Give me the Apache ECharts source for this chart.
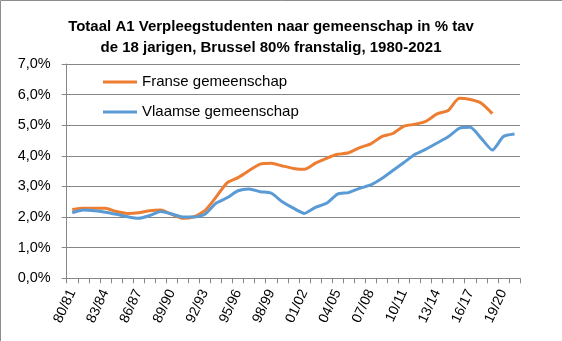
<!DOCTYPE html>
<html><head><meta charset="utf-8">
<script src="https://cdn.jsdelivr.net/npm/echarts@6/dist/echarts.min.js"></script>
<style>html,body{margin:0;padding:0;background:#fff}#c{width:562px;height:341px}</style>
</head><body><div id="c"></div>
<script>
const categories = ["80/81","81/82","82/83","83/84","84/85","85/86","86/87","87/88","88/89","89/90",
  "90/91","91/92","92/93","93/94","94/95","95/96","96/97","97/98","98/99","99/00",
  "00/01","01/02","02/03","03/04","04/05","05/06","06/07","07/08","08/09","09/10",
  "10/11","11/12","12/13","13/14","14/15","15/16","16/17","17/18","18/19","19/20","20/21"];
const franse = [2.25,2.29,2.29,2.29,2.18,2.12,2.14,2.21,2.23,2.09,
  1.96,2.01,2.21,2.65,3.12,3.29,3.52,3.73,3.76,3.67,
  3.59,3.56,3.76,3.92,4.05,4.10,4.27,4.39,4.63,4.73,
  4.97,5.03,5.13,5.37,5.48,5.88,5.84,5.72,5.38];
const vlaamse = [2.14,2.23,2.21,2.16,2.09,2.01,1.96,2.05,2.18,2.10,
  2.00,2.00,2.09,2.45,2.63,2.86,2.92,2.83,2.78,2.50,
  2.29,2.12,2.32,2.45,2.75,2.80,2.94,3.05,3.26,3.52,
  3.78,4.05,4.22,4.42,4.62,4.90,4.93,4.57,4.19,4.63,4.71];
const titleText = "Totaal A1 Verpleegstudenten naar gemeenschap in % tav\nde 18 jarigen, Brussel 80% franstalig, 1980-2021";
const seriesNames = ["Franse gemeenschap","Vlaamse gemeenschap"];

const chart = echarts.init(document.getElementById('c'), null, {renderer:'canvas'});
const font = "'Liberation Sans', Arial, sans-serif";
chart.setOption({
  animation:false,
  backgroundColor:'#fff',
  textStyle:{fontFamily:font},
  graphic:[{type:'rect',shape:{x:0.5,y:0.5,width:700,height:500},style:{fill:'none',stroke:'#8c8c8c',lineWidth:1},silent:true}],
  title:{text:titleText,left:266,top:12,textAlign:'center',
    textStyle:{fontFamily:font,fontSize:15,fontWeight:'bold',color:'#000',lineHeight:20.5}},
  legend:{orient:'vertical',left:98,top:69,icon:'rect',itemWidth:34,itemHeight:3,itemGap:14,
    textStyle:{fontFamily:font,fontSize:15,color:'#000',lineHeight:16},data:seriesNames},
  grid:{left:66.7,right:42,top:64,bottom:62.7,containLabel:false},
  xAxis:{type:'category',data:categories,boundaryGap:true,
    axisLine:{lineStyle:{color:'#868686',width:1}},
    axisTick:{show:true,interval:0,length:5,lineStyle:{color:'#868686'}},
    axisLabel:{interval:2,rotate:65,fontSize:14,color:'#000',margin:12,fontFamily:font}},
  yAxis:{type:'value',min:0,max:7,interval:1,
    axisLine:{show:true,lineStyle:{color:'#868686'}},
    axisTick:{show:true,length:5,lineStyle:{color:'#868686'}},
    splitLine:{lineStyle:{color:'#868686',width:1}},
    axisLabel:{fontSize:14.5,color:'#000',margin:16,fontFamily:font,
      formatter:v=>v.toFixed(1).replace('.',',')+'%'}},
  series:[
    {name:seriesNames[0],type:'line',data:franse,showSymbol:false,symbol:'none',smooth:0.2,
      lineStyle:{color:'#ED7D31',width:3},itemStyle:{color:'#ED7D31'}},
    {name:seriesNames[1],type:'line',data:vlaamse,showSymbol:false,symbol:'none',smooth:0.2,
      lineStyle:{color:'#5B9BD5',width:3},itemStyle:{color:'#5B9BD5'}}
  ]
});
</script></body></html>
